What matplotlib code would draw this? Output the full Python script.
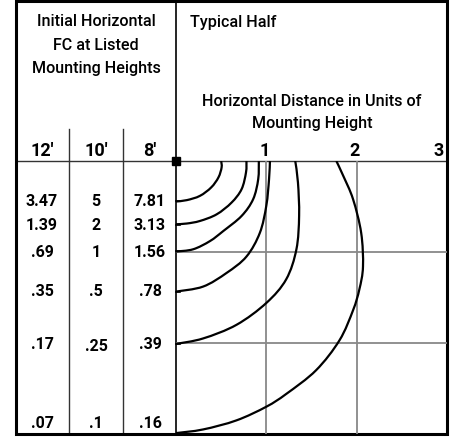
import numpy as np
import matplotlib
matplotlib.use("Agg")
import matplotlib.pyplot as plt
from matplotlib.path import Path
from matplotlib.patches import PathPatch, Rectangle

plt.rcParams['font.family'] = ['Roboto', 'DejaVu Sans']

# table: initial horizontal FC at mounting heights
heights = ["12\u2032", "10\u2032", "8\u2032"]
fc_12 = ["3.47", "1.39", ".69", ".35", ".17", ".07"]
fc_10 = ["5", "2", "1", ".5", ".25", ".1"]
fc_8 = ["7.81", "3.13", "1.56", ".78", ".39", ".16"]
# depth (in mounting heights) where each isofootcandle curve meets the axis
row_depth = [0.44, 0.70, 0.99, 1.44, 2.01, 3.0]

# isofootcandle curves, (x, y) in units of mounting height, y downward
curves = [
    [(0.50, 0.0), (0.505, 0.07), (0.47, 0.18), (0.39, 0.29), (0.265, 0.383), (0.12, 0.43), (0.0, 0.445)],
    [(0.78, 0.0), (0.775, 0.125), (0.726, 0.31), (0.615, 0.457), (0.45, 0.586), (0.265, 0.659), (0.12, 0.687), (0.0, 0.695)],
    [(0.917, 0.0), (0.91, 0.2), (0.854, 0.42), (0.726, 0.604), (0.523, 0.77), (0.376, 0.88), (0.19, 0.97), (0.0, 0.995)],
    [(1.04, 0.0), (1.03, 0.2), (1.0, 0.49), (0.928, 0.79), (0.78, 1.05), (0.56, 1.23), (0.30, 1.38), (0.0, 1.435)],
    [(1.32, 0.0), (1.35, 0.236), (1.363, 0.6), (1.333, 0.97), (1.22, 1.30), (1.0, 1.56), (0.67, 1.80), (0.30, 1.95), (0.0, 2.01)],
    [(1.775, 0.0), (1.85, 0.16), (1.96, 0.42), (2.05, 0.79), (2.07, 1.16), (2.03, 1.41), (1.96, 1.64),
     (1.81, 1.97), (1.55, 2.30), (1.22, 2.56), (1.0, 2.70), (0.67, 2.85), (0.30, 2.95), (0.0, 2.99)],
]
dist_ticks = [1, 2, 3]


def smooth_path(pts):
    # catmull-rom through the points, as cubic bezier segments
    p = np.array(pts, dtype=float)
    p = np.vstack([p[0], p, p[-1]])
    verts = [p[1]]
    codes = [Path.MOVETO]
    for i in range(1, len(p) - 2):
        c1 = p[i] + (p[i + 1] - p[i - 1]) / 6
        c2 = p[i + 1] - (p[i + 2] - p[i]) / 6
        verts += [c1, c2, p[i + 1]]
        codes += [Path.CURVE4] * 3
    return Path(verts, codes)


W, H = 458, 439
fig = plt.figure(figsize=(W / 100, H / 100), dpi=100)

# background axes in pixel coordinates for frame and table
bg = fig.add_axes([0, 0, 1, 1])
bg.set_xlim(0, W)
bg.set_ylim(H, 0)
bg.axis('off')

L, T, R, B = 16, 2, 447, 435
DIV, HL = 176, 162
col_x = [69, 123]
col_c = [42, 96, 150]

bg.add_patch(Rectangle((L, T), R - L, B - T, fill=False, lw=2.2, ec='black', zorder=5))
bg.plot([DIV, DIV], [T, B], color='black', lw=1.2)
bg.plot([L, R], [HL, HL], color='#333333', lw=1.0)
for cx in col_x:
    bg.plot([cx, cx], [130, B], color='#333333', lw=1.0)
bg.add_patch(Rectangle((DIV - 4, HL - 4), 8, 8, color='black', zorder=6))

for i, t in enumerate(["Initial Horizontal", "FC at Listed", "Mounting Heights"]):
    bg.text(96, 22 + i * 23, t, ha='center', va='center', fontsize=11.6, fontweight='medium')
bg.text(190, 22, "Typical Half", ha='left', va='center', fontsize=11.6, fontweight='medium')
bg.text(312, 102, "Horizontal Distance in Units of", ha='center', va='center', fontsize=11.6, fontweight='medium')
bg.text(312, 124, "Mounting Height", ha='center', va='center', fontsize=11.6, fontweight='medium')

for cx, h in zip(col_c, heights):
    bg.text(cx, 151, h, ha='center', va='center', fontsize=13, fontweight='bold')

# chart axes
ax = fig.add_axes([DIV / W, 1 - B / H, (R - DIV) / W, (B - HL) / H])
ax.set_xlim(0, 3)
ax.set_ylim(3, 0)
ax.axis('off')
for g in [1, 2]:
    ax.axvline(g, color='#888888', lw=1.3, zorder=1)
    ax.axhline(g, color='#888888', lw=1.3, zorder=1)

for c in curves:
    ax.add_patch(PathPatch(smooth_path(c), fill=False, lw=1.6, ec='black', zorder=3))

for d in row_depth[:-1]:
    ax.plot([0, 0.045], [d, d], color='black', lw=1.2, clip_on=False)

# distance tick labels above the chart
for t in dist_ticks:
    xp = DIV + t * (R - DIV) / 3
    bg.text(xp - (8 if t == 3 else 2), 151, str(t), ha='center', va='center', fontsize=13, fontweight='bold')

# table values placed at their curve depths
row_y = [202, 226, 253, 292, 345, 424]
for j, col in enumerate([fc_12, fc_10, fc_8]):
    for v, yp in zip(col, row_y):
        dy = 2 if (j == 1 and v == ".25") else 0
        bg.text(col_c[j], yp + dy, v, ha='center', va='center', fontsize=11.5, fontweight='bold')

fig.savefig("out.png", dpi=100)
